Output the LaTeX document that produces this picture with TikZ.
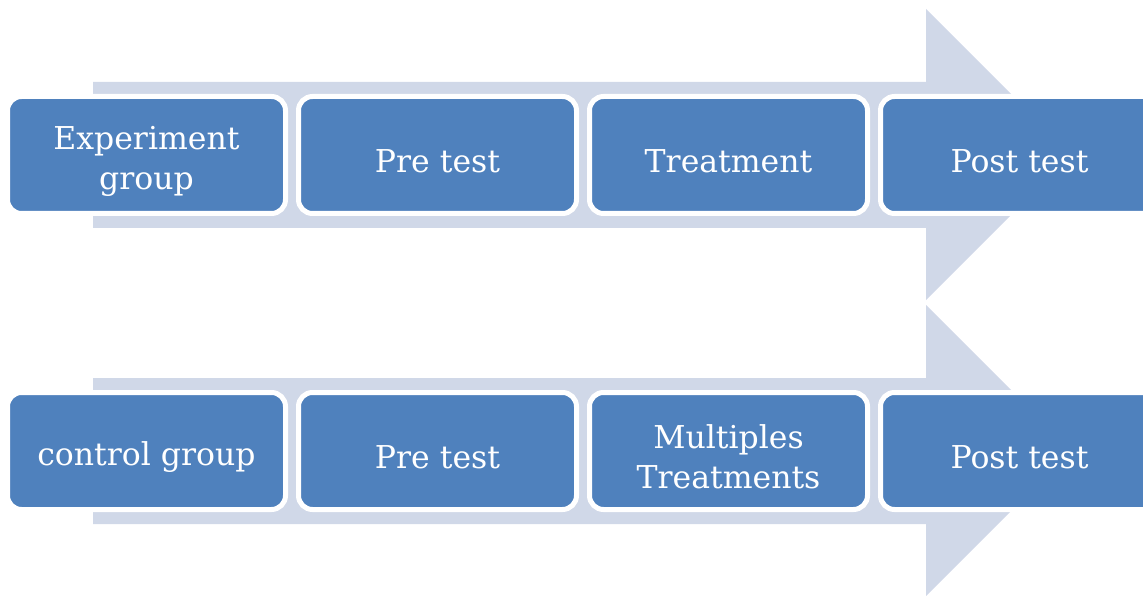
\documentclass[tikz,border=0pt]{standalone}
\usepackage{fontspec}
\setmainfont{DejaVu Serif}
\definecolor{boxblue}{HTML}{4F81BD}
\definecolor{arrowgrey}{HTML}{D0D8E8}
\newcommand{\stagebox}[3]{%
  \node[stage] (#1) at (#2) {};
  \node[stagetext] (#1-text) at ([yshift=-6pt]#1.center) {#3};}
\begin{document}
\begin{tikzpicture}[x=1pt,y=-1pt,
  stage/.style={draw=white, line width=5pt, fill=boxblue, rounded corners=14pt,
    minimum width=278pt, minimum height=117pt, inner sep=0pt},
  stagetext/.style={text=white, align=center, inner sep=0pt,
    font=\fontsize{31.5}{40}\selectfont}]
\useasboundingbox (0,0) rectangle (1143,596);
\clip (0,0) rectangle (1143,596);
% background block arrows, one per group
\foreach \dy in {0,296}{
  \fill[arrowgrey] (93,82+\dy) -- (926,82+\dy) -- (926,9+\dy) -- (1071.5,154.5+\dy)
    -- (926,300+\dy) -- (926,228+\dy) -- (93,228+\dy) -- cycle;
}
% experiment group
\stagebox{e1}{146.5,155}{Experiment\\group}
\stagebox{e2}{437.5,155}{Pre test}
\stagebox{e3}{728.5,155}{Treatment}
\stagebox{e4}{1019.5,155}{Post test}
% control group
\stagebox{c1}{146.5,451}{control group}
\stagebox{c2}{437.5,451}{Pre test}
\stagebox{c3}{728.5,451}{Multiples\\Treatments}
\stagebox{c4}{1019.5,451}{Post test}
\end{tikzpicture}
\end{document}
